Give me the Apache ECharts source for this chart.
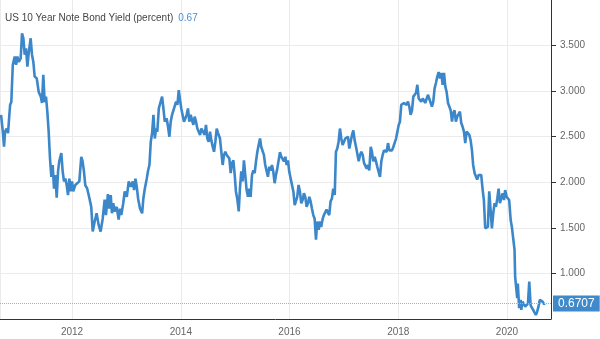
<!DOCTYPE html>
<html>
<head>
<meta charset="utf-8">
<title>US 10 Year Note Bond Yield</title>
<script src="https://cdn.jsdelivr.net/npm/echarts@6/dist/echarts.min.js"></script>
<style>
  html, body { margin: 0; padding: 0; background: #fff; }
  #chart { width: 600px; height: 339px; }
</style>
</head>
<body>
<div id="chart"></div>
<script>
// Observation dates (roughly weekly) and the 10-year yield in percent
const dates = [
  '2010-09-11','2010-09-23','2010-10-01','2010-10-08','2010-10-19','2010-10-28','2010-11-04','2010-11-11','2010-11-19','2010-11-29',
  '2010-12-12','2010-12-21','2010-12-30','2011-01-08','2011-01-21','2011-01-30','2011-02-08','2011-02-17','2011-02-26','2011-03-07',
  '2011-03-16','2011-03-29','2011-04-07','2011-04-16','2011-04-25','2011-05-09','2011-05-22','2011-06-05','2011-06-13','2011-06-22',
  '2011-07-01','2011-07-10','2011-07-19','2011-07-28','2011-08-06','2011-08-15','2011-08-24','2011-09-02','2011-09-11','2011-09-20',
  '2011-09-29','2011-10-07','2011-10-21','2011-10-30','2011-11-08','2011-11-17','2011-11-26','2011-12-05','2011-12-14','2011-12-23',
  '2012-01-01','2012-01-09','2012-01-23','2012-02-05','2012-02-19','2012-03-03','2012-03-12','2012-03-21','2012-03-30','2012-04-12',
  '2012-04-26','2012-05-09','2012-05-19','2012-06-01','2012-06-14','2012-06-28','2012-07-11','2012-07-25','2012-08-07','2012-08-16',
  '2012-08-29','2012-09-07','2012-09-17','2012-09-25','2012-10-04','2012-10-13','2012-10-27','2012-11-09','2012-11-18','2012-11-27',
  '2012-12-10','2012-12-20','2013-01-03','2013-01-16','2013-01-30','2013-02-12','2013-02-21','2013-03-02','2013-03-11','2013-03-20',
  '2013-04-02','2013-04-16','2013-04-24','2013-05-04','2013-05-17','2013-05-26','2013-06-04','2013-06-13','2013-06-22','2013-07-01',
  '2013-07-10','2013-07-19','2013-07-27','2013-08-06','2013-08-19','2013-08-28','2013-09-06','2013-09-15','2013-09-28','2013-10-07',
  '2013-10-16','2013-10-25','2013-11-03','2013-11-16','2013-11-30','2013-12-09','2013-12-18','2013-12-27','2014-01-04','2014-01-14',
  '2014-01-22','2014-01-31','2014-02-09','2014-02-18','2014-02-27','2014-03-08','2014-03-17','2014-03-26','2014-04-04','2014-04-13',
  '2014-04-22','2014-05-01','2014-05-10','2014-05-19','2014-06-01','2014-06-10','2014-06-19','2014-06-28','2014-07-07','2014-07-16',
  '2014-07-25','2014-08-03','2014-08-12','2014-08-21','2014-08-30','2014-09-08','2014-09-21','2014-09-30','2014-10-09','2014-10-18',
  '2014-10-27','2014-11-05','2014-11-14','2014-11-23','2014-12-02','2014-12-11','2014-12-20','2014-12-29','2015-01-06','2015-01-15',
  '2015-01-25','2015-02-02','2015-02-11','2015-02-20','2015-03-01','2015-03-10','2015-03-19','2015-03-28','2015-04-06','2015-04-15',
  '2015-04-24','2015-05-03','2015-05-12','2015-05-21','2015-05-30','2015-06-08','2015-06-17','2015-06-25','2015-07-05','2015-07-13',
  '2015-07-22','2015-08-01','2015-08-09','2015-08-18','2015-08-27','2015-09-05','2015-09-14','2015-09-23','2015-10-02','2015-10-11',
  '2015-10-20','2015-10-29','2015-11-07','2015-11-16','2015-11-25','2015-12-04','2015-12-13','2015-12-22','2015-12-30','2016-01-09',
  '2016-01-18','2016-01-27','2016-02-05','2016-02-13','2016-02-22','2016-03-02','2016-03-11','2016-03-20','2016-03-29','2016-04-07',
  '2016-04-16','2016-04-25','2016-05-04','2016-05-13','2016-05-22','2016-05-31','2016-06-09','2016-06-18','2016-06-27','2016-07-05',
  '2016-07-15','2016-07-24','2016-08-01','2016-08-11','2016-08-19','2016-08-28','2016-09-06','2016-09-15','2016-09-24','2016-10-03',
  '2016-10-12','2016-10-21','2016-10-31','2016-11-08','2016-11-17','2016-11-26','2016-12-05','2016-12-14','2016-12-23','2017-01-02',
  '2017-01-10','2017-01-20','2017-01-28','2017-02-06','2017-02-15','2017-02-24','2017-03-05','2017-03-14','2017-03-23','2017-04-01',
  '2017-04-10','2017-04-19','2017-04-28','2017-05-07','2017-05-16','2017-05-24','2017-06-03','2017-06-12','2017-06-20','2017-06-30',
  '2017-07-08','2017-07-17','2017-07-27','2017-08-04','2017-08-13','2017-08-22','2017-08-31','2017-09-09','2017-09-18','2017-09-27',
  '2017-10-06','2017-10-15','2017-10-24','2017-11-02','2017-11-11','2017-11-20','2017-11-29','2017-12-08','2017-12-17','2017-12-26',
  '2018-01-04','2018-01-12','2018-01-21','2018-01-31','2018-02-08','2018-02-17','2018-02-26','2018-03-07','2018-03-16','2018-03-25',
  '2018-04-03','2018-04-12','2018-04-21','2018-04-30','2018-05-09','2018-05-18','2018-05-27','2018-06-04','2018-06-14','2018-06-22',
  '2018-07-01','2018-07-11','2018-07-19','2018-07-28','2018-08-07','2018-08-15','2018-08-24','2018-09-02','2018-09-11','2018-09-20',
  '2018-09-29','2018-10-08','2018-10-17','2018-10-26','2018-11-04','2018-11-13','2018-11-22','2018-12-01','2018-12-09','2018-12-19',
  '2018-12-28','2019-01-05','2019-01-14','2019-01-23','2019-02-01','2019-02-10','2019-02-19','2019-02-28','2019-03-09','2019-03-18',
  '2019-03-27','2019-04-05','2019-04-14','2019-04-23','2019-05-02','2019-05-11','2019-05-19','2019-05-29','2019-06-07','2019-06-15',
  '2019-06-25','2019-07-03','2019-07-12','2019-07-22','2019-07-30','2019-08-08','2019-08-17','2019-08-26','2019-09-04','2019-09-13',
  '2019-09-22','2019-10-01','2019-10-10','2019-10-19','2019-10-28','2019-11-06','2019-11-15','2019-11-23','2019-12-03','2019-12-12',
  '2019-12-20','2019-12-30','2020-01-07','2020-01-16','2020-01-26','2020-02-03','2020-02-12','2020-02-21','2020-02-25','2020-03-06',
  '2020-03-10','2020-03-14','2020-03-23','2020-04-02','2020-04-06','2020-04-15','2020-04-24','2020-05-03','2020-05-12','2020-05-21',
  '2020-05-30','2020-06-08','2020-06-16','2020-06-25','2020-07-05','2020-07-13','2020-07-22','2020-07-31','2020-08-09','2020-08-18',
  '2020-08-27','2020-09-04','2020-09-13'
];

const yields = [
  2.74,2.555,2.39,2.555,2.59,2.54,2.70,2.85,2.88,3.29,
  3.38,3.29,3.38,3.32,3.36,3.635,3.58,3.40,3.47,3.27,
  3.42,3.58,3.40,3.32,3.16,3.14,2.99,2.94,2.87,3.18,
  2.88,2.94,2.775,2.555,2.26,2.06,2.19,1.93,2.08,1.83,
  2.12,2.23,2.32,2.12,2.01,2.04,1.97,1.86,2.04,1.90,
  2.01,1.90,1.97,1.97,2.01,2.28,2.23,2.12,1.97,1.93,
  1.83,1.73,1.46,1.57,1.66,1.53,1.46,1.60,1.81,1.64,
  1.87,1.71,1.86,1.66,1.77,1.68,1.73,1.59,1.71,1.64,
  1.77,1.90,1.84,2.01,1.95,2.01,1.915,2.04,1.95,1.82,
  1.71,1.66,1.82,1.93,2.04,2.13,2.19,2.445,2.54,2.74,
  2.48,2.59,2.555,2.81,2.83,2.94,2.81,2.665,2.70,2.61,
  2.50,2.665,2.74,2.76,2.885,2.85,3.01,2.90,2.81,2.83,
  2.665,2.70,2.74,2.81,2.665,2.74,2.72,2.63,2.72,2.665,
  2.59,2.555,2.52,2.59,2.61,2.52,2.63,2.48,2.445,2.555,
  2.46,2.39,2.335,2.445,2.59,2.54,2.48,2.46,2.19,2.30,
  2.335,2.30,2.32,2.26,2.10,2.21,2.24,2.08,1.90,1.82,
  1.68,1.93,2.12,2.01,2.24,2.08,1.915,1.84,1.93,1.84,
  2.08,2.13,2.10,2.23,2.335,2.41,2.48,2.39,2.37,2.30,
  2.19,2.17,2.06,2.17,2.13,2.19,2.12,1.99,2.08,2.15,
  2.24,2.33,2.28,2.26,2.23,2.28,2.19,2.24,2.12,2.04,
  2.03,1.90,1.75,1.77,1.84,1.97,1.90,1.77,1.805,1.88,
  1.84,1.73,1.77,1.84,1.79,1.71,1.64,1.60,1.37,1.57,
  1.48,1.57,1.51,1.60,1.64,1.66,1.70,1.71,1.64,1.79,
  1.82,1.93,1.86,2.335,2.37,2.445,2.59,2.48,2.41,2.39,
  2.48,2.46,2.50,2.37,2.445,2.52,2.57,2.46,2.39,2.37,
  2.23,2.30,2.335,2.30,2.21,2.19,2.15,2.19,2.13,2.39,
  2.335,2.23,2.28,2.23,2.17,2.15,2.06,2.23,2.30,2.35,
  2.37,2.335,2.43,2.35,2.37,2.35,2.39,2.41,2.48,2.50,
  2.63,2.665,2.85,2.87,2.87,2.885,2.85,2.885,2.83,2.74,
  2.79,2.94,2.96,2.98,3.07,2.92,2.94,2.885,2.92,2.90,
  2.87,2.885,2.96,2.94,2.87,2.83,2.885,3.03,3.09,3.16,
  3.21,3.14,3.20,3.07,3.20,3.05,2.99,2.87,2.885,2.79,
  2.665,2.76,2.79,2.665,2.72,2.70,2.775,2.65,2.61,2.555,
  2.43,2.555,2.54,2.52,2.46,2.35,2.19,2.10,2.08,2.03,
  2.08,2.10,2.08,1.915,1.805,1.495,1.48,1.51,1.90,1.70,
  1.495,1.66,1.77,1.73,1.82,1.93,1.77,1.82,1.88,1.805,
  1.915,1.84,1.86,1.805,1.586,1.51,1.53,1.26,0.965,0.945,
  0.73,0.89,0.62,0.71,0.60,0.69,0.67,0.635,0.65,0.67,
  0.91,0.65,0.635,0.60,0.58,0.544,0.58,0.635,0.71,0.73,
  0.69,0.665,0.6707
];

// Year labels shown under the time axis
const yearLabels = ['2012', '2014', '2016', '2018', '2020'];

// Y-axis tick values
const yTicks = [1.0, 1.5, 2.0, 2.5, 3.0, 3.5];

const lineColor = '#3b87c9';
const fontFamily = '"Liberation Sans", Arial, sans-serif';

const seriesData = dates.map((d, i) => [d, yields[i]]);
const lastValue = yields[yields.length - 1];

const chart = echarts.init(document.getElementById('chart'), null, { renderer: 'canvas' });

chart.setOption({
  animation: false,
  backgroundColor: '#ffffff',
  textStyle: { fontFamily: fontFamily },
  title: {
    left: 5,
    top: 9,
    padding: 0,
    text: '{name|US 10 Year Note Bond Yield (percent)} {val|' + lastValue.toFixed(2) + '}',
    textStyle: {
      fontWeight: 'normal',
      rich: {
        name: { fontFamily: fontFamily, fontSize: 10, fontWeight: 'normal', color: '#444444' },
        val: { fontFamily: fontFamily, fontSize: 10, fontWeight: 'normal', color: '#4a90d0' }
      }
    }
  },
  grid: {
    left: 0,
    right: 49,
    top: 0,
    bottom: 20,
    containLabel: false,
    outerBoundsMode: 'none'
  },
  xAxis: {
    type: 'time',
    min: '2010-09-04',
    max: '2020-10-23',
    minInterval: 2 * 365.25 * 864e5,
    maxInterval: 2 * 365.25 * 864e5,
    axisLine: { show: true, lineStyle: { color: '#333333', width: 1 } },
    axisTick: { show: false },
    axisLabel: {
      color: '#666666',
      fontSize: 10,
      fontFamily: fontFamily,
      margin: 8,
      formatter: function (v) {
        const y = String(new Date(v).getFullYear());
        return yearLabels.indexOf(y) >= 0 ? y : '';
      }
    },
    splitLine: { show: true, lineStyle: { color: '#ebebeb', width: 1 } }
  },
  yAxis: {
    type: 'value',
    position: 'right',
    min: 0.5,
    max: 4.0,
    interval: 0.5,
    axisLine: { show: true, lineStyle: { color: '#333333', width: 1 } },
    axisTick: { show: true, length: 5, lineStyle: { color: '#333333' } },
    axisLabel: {
      color: '#666666',
      fontSize: 10,
      fontFamily: fontFamily,
      margin: 9,
      showMinLabel: false,
      showMaxLabel: false,
      formatter: function (v) {
        return yTicks.indexOf(v) >= 0 ? v.toFixed(3) : '';
      }
    },
    splitLine: {
      show: true,
      showMinLine: false,
      showMaxLine: false,
      lineStyle: { color: '#ebebeb', width: 1 }
    }
  },
  series: [{
    type: 'line',
    data: seriesData,
    showSymbol: false,
    symbol: 'none',
    lineStyle: { color: lineColor, width: 2.6 },
    itemStyle: { color: lineColor },
    markLine: {
      silent: true,
      symbol: ['none', 'none'],
      lineStyle: { type: 'dotted', color: '#8ab8e3', width: 1 },
      label: {
        show: true,
        position: 'end',
        distance: 2,
        formatter: String(lastValue.toFixed(4)),
        color: '#ffffff',
        backgroundColor: '#3f8acb',
        fontFamily: fontFamily,
        fontSize: 12,
        padding: [2, 5, 2, 5]
      },
      data: [{ yAxis: lastValue }]
    }
  }]
});
</script>
</body>
</html>
